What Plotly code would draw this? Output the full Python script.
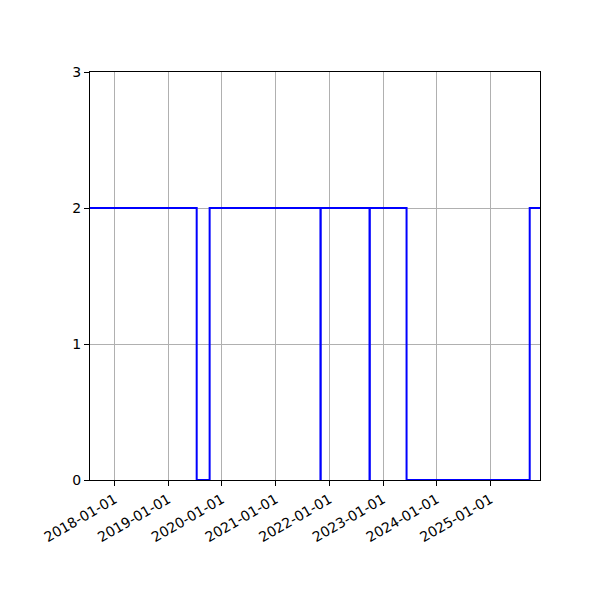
import plotly.graph_objects as go

# step series: value holds until the next date
dates = ["2017-07-17", "2019-07-13", "2019-10-09", "2021-11-01", "2021-11-03",
         "2022-10-01", "2022-10-03", "2023-06-10", "2025-09-25", "2025-12-04"]
values = [2, 0, 2, 0, 2, 0, 2, 0, 2, 2]

tick_dates = ["2018-01-01", "2019-01-01", "2020-01-01", "2021-01-01",
              "2022-01-01", "2023-01-01", "2024-01-01", "2025-01-01"]
y_ticks = [0, 1, 2, 3]

fig = go.Figure()
fig.add_trace(go.Scatter(
    x=dates, y=values, mode="lines",
    line=dict(color="#0000ff", width=2, shape="hv"),
    showlegend=False,
))

axis_style = dict(
    showline=True, linecolor="black", linewidth=1, mirror=True,
    ticks="outside", ticklen=5, tickcolor="black",
    showgrid=True, gridcolor="#b0b0b0", gridwidth=1, zeroline=False,
)

# page body adds ~8px offset, margins compensate for it
fig.update_layout(
    width=600, height=600,
    margin=dict(l=82, r=68, t=64, b=128),
    paper_bgcolor="white", plot_bgcolor="white",
    font=dict(family="DejaVu Sans", size=14, color="black"),
    xaxis=dict(
        range=["2017-07-17", "2025-12-04"],
        tickvals=tick_dates, ticktext=tick_dates,
        tickangle=-30, **axis_style,
    ),
    yaxis=dict(range=[0, 3], tickvals=y_ticks, **axis_style),
)

fig.write_html("out.html")
